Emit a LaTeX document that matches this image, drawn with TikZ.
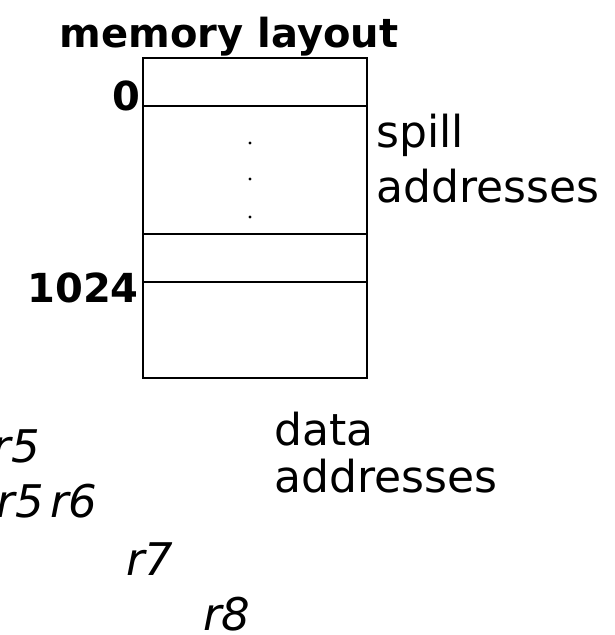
\documentclass[tikz,border=0pt]{standalone}
\usepackage{fontspec}
\setmainfont{DejaVu Sans}
\usepackage{tikz}
\usetikzlibrary{positioning}
\tikzset{
	cell/.style={draw=black,line width=1.2pt,minimum width=224pt,inner sep=0pt,outer sep=0pt},
	addr/.style={inner sep=0pt,font=\fontsize{40}{48}\selectfont\bfseries},
	lbl/.style={inner sep=0pt,font=\fontsize{44}{50}\selectfont},
	reg/.style={inner sep=0pt,font=\fontsize{45}{50}\selectfont\itshape}}

\begin{document}
\begin{tikzpicture}[x=1pt,y=-1pt]
	\useasboundingbox (0,0) rectangle (614,635);
	\node (c1) at (255,82) [cell,minimum height=48pt] {};
	\node (c2) [cell,minimum height=128pt,below=0pt of c1] {};
	\node (c3) [cell,minimum height=48pt,below=0pt of c2] {};
	\node (c4) [cell,minimum height=96pt,below=0pt of c3] {};
	\fill (250,143) circle (1.6pt);
	\fill (250,179) circle (1.6pt);
	\fill (250,217) circle (1.6pt);
	\node (T) at (229,47) [addr,anchor=base] {memory layout};
	\node (a0) at (141,110) [addr,anchor=base east] {0};
	\node (a1024) at (139,302) [addr,anchor=base east] {1024};
	\node (s1) at (376,147) [lbl,anchor=base west] {spill};
	\node (s2) at (376,202) [lbl,anchor=base west] {addresses};
	\node (d1) at (274,445) [lbl,anchor=base west] {data};
	\node (d2) at (274,492) [lbl,anchor=base west] {addresses};
	\node (r5a) at (40,462) [reg,anchor=base east] {r5};
	\node (r5b) at (44,517) [reg,anchor=base east] {r5};
	\node (r6) at (50,517) [reg,anchor=base west] {r6};
	\node (r7) at (126,575) [reg,anchor=base west] {r7};
	\node (r8) at (203,630) [reg,anchor=base west] {r8};
\end{tikzpicture}
\end{document}
